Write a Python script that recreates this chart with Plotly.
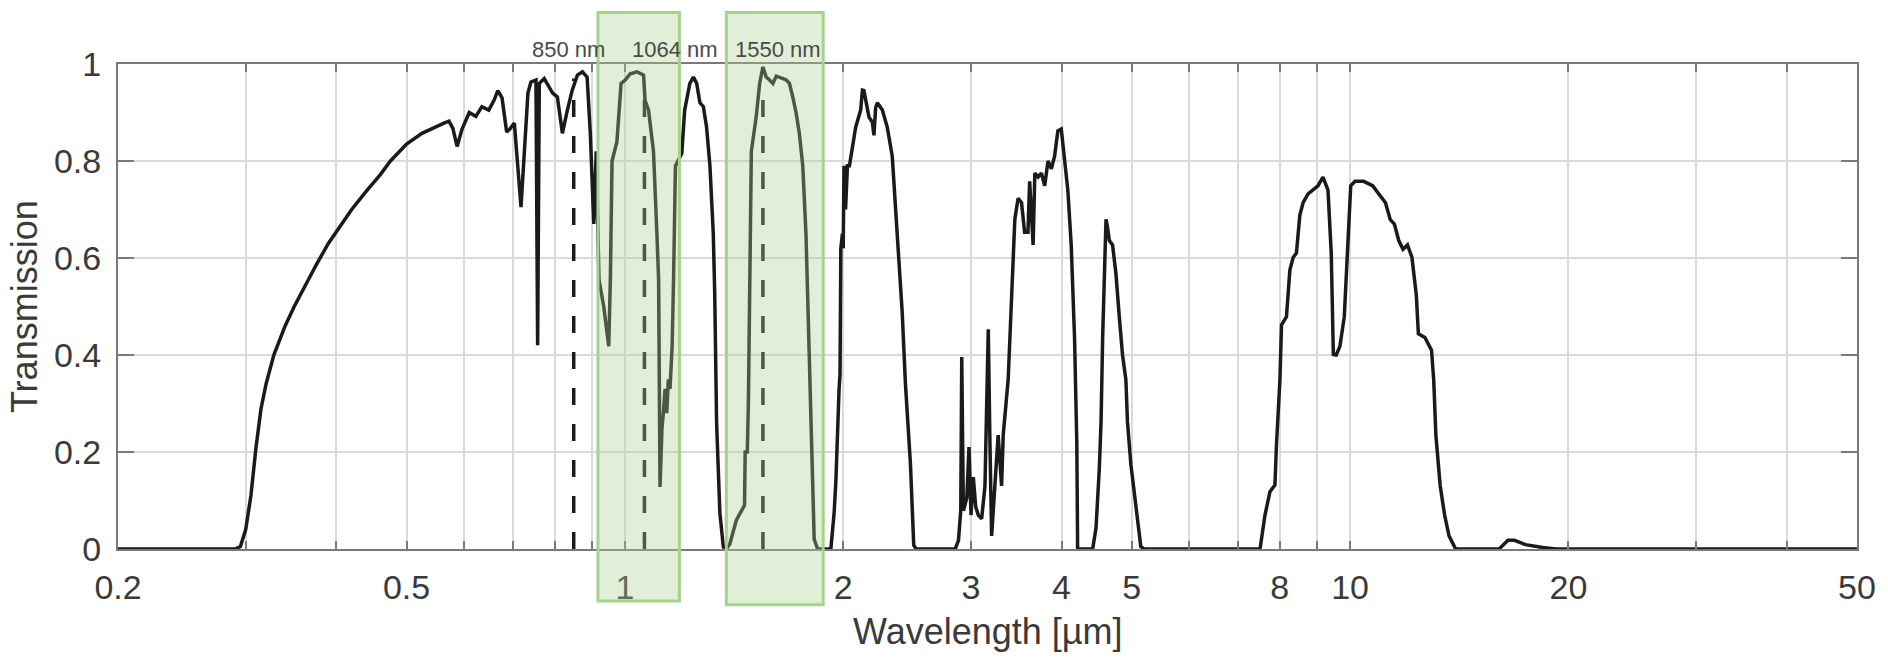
import numpy as np
import plotly.graph_objects as go

# ---- data ----
wavelength_um = [
    0.20, 0.29, 0.295, 0.30, 0.305, 0.31, 0.315, 0.32, 0.328, 0.34, 0.35, 0.36, 0.375, 0.39, 0.40,
    0.42, 0.44, 0.46, 0.475,
    0.50, 0.525, 0.55, 0.563, 0.572, 0.579, 0.587, 0.596, 0.61, 0.623, 0.635, 0.649, 0.66, 0.668,
    0.677, 0.687, 0.693, 0.704, 0.719, 0.735, 0.742, 0.754, 0.758, 0.762, 0.774, 0.795, 0.807,
    0.820, 0.833, 0.846, 0.860, 0.874, 0.887, 0.896, 0.906, 0.913, 0.921, 0.930, 0.935, 0.950,
    0.955, 0.960, 0.975, 0.988, 1.001, 1.017, 1.039, 1.061, 1.066, 1.078, 1.095, 1.107, 1.113,
    1.118, 1.125, 1.130, 1.136, 1.142, 1.148, 1.154, 1.162, 1.167, 1.174, 1.198, 1.209, 1.229,
    1.243, 1.256, 1.269, 1.283, 1.296, 1.310, 1.324, 1.330, 1.338, 1.352, 1.367, 1.380, 1.395,
    1.425, 1.447, 1.462, 1.465, 1.475, 1.480, 1.486, 1.494, 1.517, 1.534, 1.550, 1.566, 1.583,
    1.600, 1.617, 1.634, 1.652, 1.669, 1.686, 1.704, 1.722, 1.740, 1.759, 1.777, 1.786, 1.796,
    1.815, 1.824, 1.844, 1.923, 1.943, 1.954, 1.974, 1.980, 1.985, 1.995, 2.000, 2.005, 2.015,
    2.027, 2.040, 2.060, 2.081, 2.114, 2.126, 2.136, 2.148, 2.159, 2.171, 2.194, 2.205, 2.217,
    2.229, 2.265, 2.300, 2.337, 2.361, 2.386, 2.412, 2.437, 2.476, 2.502, 2.520, 2.854, 2.884,
    2.905, 2.914, 2.929, 2.961, 2.982, 3.001, 3.023, 3.046, 3.071, 3.104, 3.137, 3.170, 3.187,
    3.204, 3.237, 3.271, 3.307, 3.324, 3.377, 3.413, 3.449, 3.485, 3.523, 3.558, 3.596, 3.615,
    3.655, 3.675, 3.713, 3.753, 3.792, 3.832, 3.873, 3.913, 3.954, 3.997, 4.039, 4.081, 4.125,
    4.169, 4.199, 4.210, 4.416, 4.463, 4.510, 4.535, 4.558, 4.583, 4.607, 4.631, 4.656, 4.704,
    4.755, 4.805, 4.855, 4.907, 4.932, 4.985, 5.037, 5.090, 5.145, 5.200, 7.513, 7.632, 7.753,
    7.877, 7.917, 8.003, 8.043, 8.171, 8.259, 8.345, 8.433, 8.524, 8.613, 8.750, 8.889, 9.031,
    9.175, 9.322, 9.419, 9.482, 9.569, 9.682, 9.817, 9.913, 10.02, 10.16, 10.44, 10.74, 10.97,
    11.19, 11.36, 11.51, 11.67, 11.83, 12.00, 12.17, 12.34, 12.42, 12.68, 12.95, 13.04, 13.13,
    13.31, 13.50, 13.69, 13.98, 16.05, 16.51, 16.85, 17.45, 18.44, 19.21, 50.0,
]
transmission = [
    0.0, 0.0, 0.005, 0.04, 0.11, 0.21, 0.29, 0.34, 0.40, 0.46, 0.50, 0.535, 0.585, 0.63, 0.655,
    0.70, 0.738, 0.772, 0.80,
    0.835, 0.857, 0.872, 0.878, 0.882, 0.868, 0.83, 0.865, 0.90, 0.892, 0.912, 0.905, 0.925, 0.945,
    0.93, 0.86, 0.865, 0.878, 0.705, 0.94, 0.963, 0.967, 0.42, 0.96, 0.97, 0.94, 0.932,
    0.857, 0.905, 0.946, 0.977, 0.984, 0.973, 0.857, 0.67, 0.82, 0.555, 0.52, 0.50, 0.418,
    0.56, 0.80, 0.84, 0.96, 0.967, 0.98, 0.984, 0.977, 0.925, 0.905, 0.82, 0.65, 0.555,
    0.128, 0.25, 0.28, 0.33, 0.28, 0.35, 0.33, 0.42, 0.555, 0.79, 0.816, 0.905, 0.96,
    0.973, 0.96, 0.92, 0.912, 0.87, 0.79, 0.65, 0.527, 0.26, 0.074, 0.004, 0.0, 0.01,
    0.06, 0.08, 0.09, 0.20, 0.20, 0.30, 0.555, 0.82, 0.89, 0.96, 0.994, 0.973, 0.967,
    0.96, 0.975, 0.973, 0.97, 0.967, 0.96, 0.932, 0.90, 0.857, 0.79, 0.65, 0.527, 0.45,
    0.14, 0.02, 0.0, 0.0, 0.074, 0.14, 0.33, 0.36, 0.62, 0.65, 0.62, 0.79, 0.70,
    0.79, 0.79, 0.83, 0.87, 0.905, 0.946, 0.945, 0.926, 0.905, 0.89, 0.88, 0.853, 0.91,
    0.92, 0.905, 0.87, 0.81, 0.705, 0.592, 0.488, 0.34, 0.175, 0.008, 0.0, 0.0, 0.018,
    0.08, 0.396, 0.079, 0.105, 0.21, 0.07, 0.148, 0.087, 0.07, 0.062, 0.13, 0.453, 0.218,
    0.027, 0.13, 0.235, 0.13, 0.235, 0.35, 0.523, 0.68, 0.723, 0.714, 0.653, 0.653, 0.758,
    0.627, 0.775, 0.767, 0.775, 0.749, 0.80, 0.784, 0.81, 0.862, 0.866, 0.80, 0.74, 0.627,
    0.435, 0.218, 0.0, 0.0, 0.043, 0.166, 0.262, 0.435, 0.567, 0.68, 0.662, 0.636, 0.627,
    0.567, 0.479, 0.40, 0.349, 0.262, 0.175, 0.114, 0.062, 0.005, 0.0, 0.0, 0.07, 0.118,
    0.132, 0.218, 0.349, 0.462, 0.479, 0.575, 0.601, 0.61, 0.688, 0.714, 0.732, 0.74, 0.749,
    0.767, 0.74, 0.61, 0.401, 0.40, 0.418, 0.479, 0.61, 0.749, 0.758, 0.758, 0.749, 0.732,
    0.714, 0.679, 0.67, 0.636, 0.618, 0.627, 0.601, 0.523, 0.444, 0.436, 0.41, 0.349, 0.235,
    0.131, 0.07, 0.027, 0.0, 0.0, 0.018, 0.018, 0.009, 0.003, 0.0, 0.0,
]

laser_um = [0.850, 1.064, 1.550]
laser_top = [0.97, 0.95, 0.93]
laser_labels = ["850 nm", "1064 nm", "1550 nm"]
laser_label_x_um = [0.836, 1.172, 1.627]

band_lo_um = [0.918, 1.380]
band_hi_um = [1.189, 1.877]
band_bottom = [-0.107, -0.115]

x_grid_vals = [0.2, 0.3, 0.4, 0.5, 0.6, 0.7, 0.8, 0.9,
               1, 2, 3, 4, 5, 6, 7, 8, 9, 10, 20, 30, 40, 50]
x_labeled = {0.2: "0.2", 0.5: "0.5", 1: "1", 2: "2", 3: "3", 4: "4", 5: "5",
             8: "8", 10: "10", 20: "20", 50: "50"}
y_tick_vals = [0, 0.2, 0.4, 0.6, 0.8, 1.0]
y_tick_text = ["0", "0.2", "0.4", "0.6", "0.8", "1"]

# ---- figure ----
FONT = "Liberation Sans, Arial, sans-serif"
TXT = "#3a3a3a"
AX = "#7a7a7a"
GRID = "#dadada"

fig = go.Figure()

fig.add_trace(go.Scatter(
    x=wavelength_um, y=transmission, mode="lines",
    line=dict(color="#1a1a1a", width=3.5), showlegend=False, hoverinfo="skip",
))

for lam, top in zip(laser_um, laser_top):
    fig.add_trace(go.Scatter(
        x=[lam, lam], y=[0, top], mode="lines",
        line=dict(color="#1a1a1a", width=3.5, dash="17px,19px"),
        showlegend=False, hoverinfo="skip",
    ))

for lo, hi, bot in zip(band_lo_um, band_hi_um, band_bottom):
    fig.add_shape(type="rect", xref="x", yref="paper", x0=lo, x1=hi, y0=bot, y1=1.106,
                  fillcolor="rgba(169,209,142,0.35)",
                  line=dict(color="#a9d18e", width=3), layer="above")

for txt, lx in zip(laser_labels, laser_label_x_um):
    fig.add_annotation(x=np.log10(lx), y=1.029, xref="x", yref="paper", text=txt,
                       showarrow=False, font=dict(family=FONT, size=22, color="#4a4a4a"),
                       xanchor="center", yanchor="middle")

fig.add_annotation(x=0.5, y=-0.171, xref="paper", yref="paper", text="Wavelength [µm]",
                   showarrow=False, font=dict(family=FONT, size=36, color=TXT),
                   xanchor="center", yanchor="middle")
fig.add_annotation(x=(24 - 118) / 1749, y=0.5, xref="paper", yref="paper", text="Transmission",
                   showarrow=False, textangle=-90, font=dict(family=FONT, size=36, color=TXT),
                   xanchor="center", yanchor="middle")

fig.update_xaxes(
    type="log", range=[np.log10(0.2), np.log10(50)],
    tickmode="array", tickvals=x_grid_vals,
    ticktext=[x_labeled.get(v, "") for v in x_grid_vals],
    ticks="inside", ticklen=8, tickwidth=2, tickcolor=AX,
    showgrid=True, gridcolor=GRID, gridwidth=1.5,
    showline=True, linecolor=AX, linewidth=2, mirror="allticks",
    zeroline=False, ticklabelstandoff=7,
    tickfont=dict(family=FONT, size=34, color=TXT),
)
fig.update_yaxes(
    range=[0, 1], tickmode="array", tickvals=y_tick_vals, ticktext=y_tick_text,
    ticks="inside", ticklen=16, tickwidth=2, tickcolor=AX,
    showgrid=True, gridcolor=GRID, gridwidth=1.5,
    showline=True, linecolor=AX, linewidth=2, mirror="allticks",
    zeroline=False, ticklabelstandoff=8,
    tickfont=dict(family=FONT, size=34, color=TXT),
)

fig.update_layout(
    width=1888, height=662,
    margin=dict(l=118, r=21, t=64, b=113),
    plot_bgcolor="white", paper_bgcolor="white",
    font=dict(family=FONT, color=TXT),
)

fig.write_html("out.html")
